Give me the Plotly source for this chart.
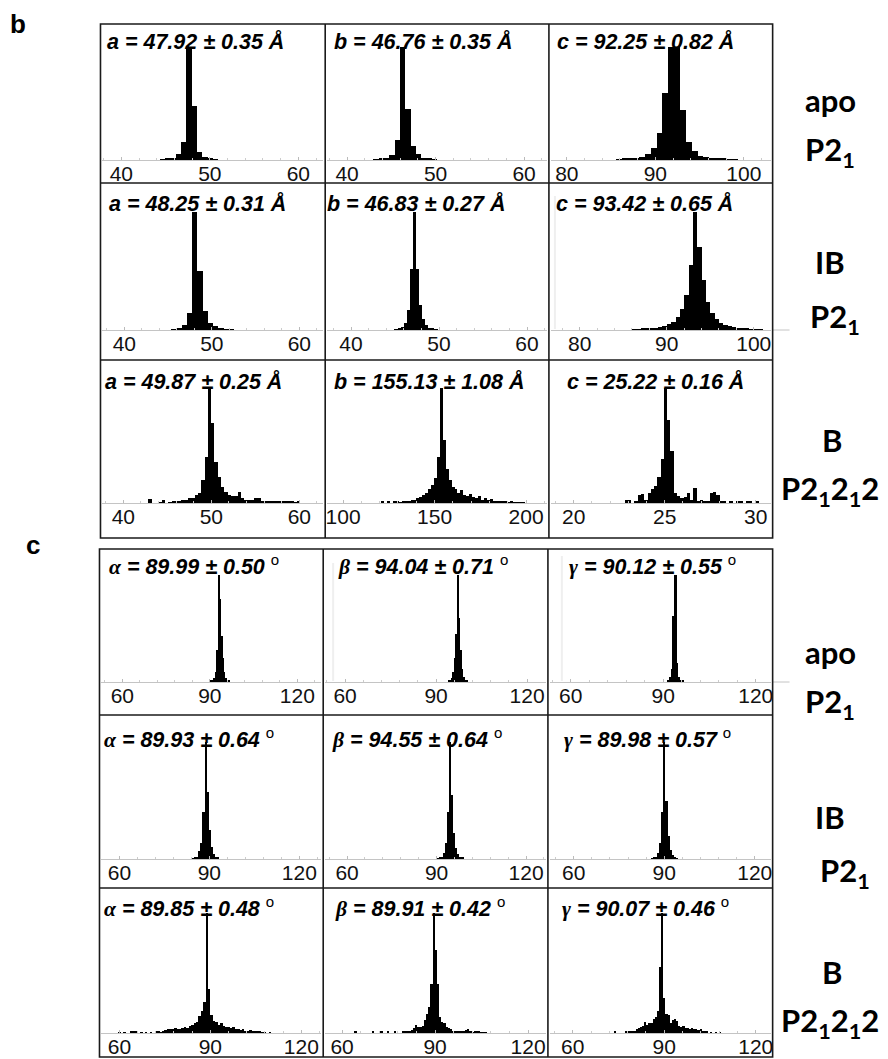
import plotly.graph_objects as go

# ---------------- data (relative frequency, peak = 100) ----------------
# panel b : unit-cell lengths (Å)
B_A_APO_EDGE, B_A_APO_BIN = 44.4, 0.6
B_A_APO = [0.5, 1, 2, 5, 16, 100, 48, 7, 3, 1, 0.5]

B_B_APO_EDGE, B_B_APO_BIN = 43.0, 0.6
B_B_APO = [0.5, 1, 2, 4, 18, 100, 45, 12, 5, 2, 1, 0.5]

B_C_APO_EDGE, B_C_APO_BIN = 85.52, 0.66
B_C_APO = [0.7, 1, 1.5, 2, 3, 5, 11, 24, 59, 100, 100, 44, 16, 8, 3.5, 2.5, 2, 1.5, 1, 0.7, 0.5]

B_A_IB_EDGE, B_A_IB_BIN = 45.4, 0.6
B_A_IB = [0.5, 1.5, 4, 14, 100, 50, 16, 6, 3, 1.5, 0.8, 0.4]

B_B_IB_EDGE, B_B_IB_BIN = 44.95, 0.35
B_B_IB = [0.5, 1, 2.5, 6, 17, 52, 100, 52, 21, 9, 4, 2, 1, 0.5]

B_C_IB_EDGE, B_C_IB_BIN = 86.0, 0.5
B_C_IB = [0.5, 0.7, 1, 1.2, 1.5, 2, 2.5, 3.5, 5, 7, 11, 18, 30, 55, 100,
          70, 42, 24, 14, 9, 6, 4, 3, 2.2, 1.6, 1.2, 0.9, 0.6, 0.4, 0.3]

B_A_B_EDGE, B_A_B_BIN = 42.9, 0.375
B_A_B = [3.5, 0, 0, 0.5, 2.3, 0, 0.5, 1.5, 1.5, 1.2, 2.5, 2.5, 4.5, 4.5, 7, 9, 20, 40,
         100, 70, 36, 23, 14, 10, 7, 6, 6, 10, 4, 3, 2.5, 3, 4.5, 4, 1.5, 1, 2, 1.5,
         1, 2, 1.5, 2, 1, 1, 0.5, 1]

B_B_B_EDGE, B_B_B_BIN = 121.0, 1.6
B_B_B = [1, 0, 1.5, 0, 1, 1.5, 0.5, 2, 1, 2, 2.5, 3, 4, 5, 7, 9, 12, 16, 22, 40,
         100, 55, 30, 20, 14, 12, 9, 11, 7, 6, 8, 5, 4, 6, 3, 4, 2.5, 3.5, 2, 2,
         1.5, 1, 1.5, 0.5, 1, 0.5, 0.5, 0.5, 0.3]

B_C_B_EDGE, B_C_B_BIN = 22.43, 0.18
B_C_B = [0, 0, 3, 3, 0, 2, 7, 8, 3, 9, 12, 15, 23, 38, 100, 72, 45, 9, 6, 4, 5, 9,
         3, 13, 2, 3, 1, 2, 9, 10, 7, 1, 1.5, 0, 1.5, 0, 1.5, 1, 0, 1.5, 1, 0, 1.5]

# panel c : unit-cell angles (°)
C_AL_APO_EDGE, C_AL_APO_BIN = 90.5, 0.5
C_AL_APO = [1, 2, 4, 9, 30, 100, 78, 43, 22, 9, 4, 2, 1]

C_BE_APO_EDGE, C_BE_APO_BIN = 94.0, 0.5
C_BE_APO = [1, 2, 4, 9, 22, 45, 100, 60, 30, 12, 5, 2, 1]

C_GA_APO_EDGE, C_GA_APO_BIN = 91.3, 0.6
C_GA_APO = [1, 5, 12, 62, 100, 18, 5, 2, 1]

C_AL_IB_EDGE, C_AL_IB_BIN = 84.35, 0.7
C_AL_IB = [0.5, 1, 2, 6.5, 14, 40, 100, 57, 25, 10, 4, 2, 1]

C_BE_IB_EDGE, C_BE_IB_BIN = 90.05, 0.7
C_BE_IB = [0.5, 1, 2, 5, 14, 40, 100, 55, 22, 9, 4, 2, 1]

C_GA_IB_EDGE, C_GA_IB_BIN = 85.45, 0.7
C_GA_IB = [0.5, 1, 2, 5, 14, 40, 100, 50, 20, 8, 3, 1.5, 0.5]

C_AL_B_EDGE, C_AL_B_BIN = 59.8, 0.8
C_AL_B = [0.5, 0, 0.5, 0, 0, 1.5, 1.5, 1, 0, 0.5, 0, 0.5, 0, 0.5, 0, 1.5, 1.5, 0.5,
          1, 2.5, 3.5, 3, 3.5, 4, 3, 3.5, 4, 5, 4.5, 6, 7, 8, 9, 14, 18, 26, 100, 37,
          15, 10, 9, 7, 8, 6, 5, 5, 4, 5, 3, 3, 2.5, 3, 2, 2, 2.5, 1.5, 1.5, 1, 1,
          0.5, 0.5, 0, 0.5]

C_BE_B_EDGE, C_BE_B_BIN = 63.35, 0.7
C_BE_B = [0, 1, 0, 0, 0, 0, 0, 0, 0, 1, 0, 0, 0, 1, 0, 0, 1, 0, 0, 1, 0, 0, 0, 1.5,
          1, 2, 2, 2.5, 4, 7, 5, 5, 6, 11, 16, 22, 41, 100, 69, 41, 13, 9, 8, 5, 4,
          3, 2, 2, 1.5, 2, 1, 1, 2.5, 3.5, 1, 0.5, 1.5, 1.5, 1, 0.5, 0.5, 0.5]

C_GA_B_EDGE, C_GA_B_BIN = 72.15, 0.7
C_GA_B = [0, 0, 1, 0, 0, 0, 0, 1, 2, 1.5, 2, 2, 3, 4, 5, 6, 9, 7, 8, 8, 12, 13, 18,
          55, 100, 29, 16, 15, 8, 11, 12, 10, 6, 5, 6, 4, 4, 3, 4, 3, 3, 2.5, 3, 2,
          2, 1, 0, 0.5, 0, 0.5, 0, 0.5]

TITLES_B = [
    ["a = 47.92 ± 0.35 Å", "b = 46.76 ± 0.35 Å", "c = 92.25 ± 0.82 Å"],
    ["a = 48.25 ± 0.31 Å", "b = 46.83 ± 0.27 Å", "c = 93.42 ± 0.65 Å"],
    ["a = 49.87 ± 0.25 Å", "b = 155.13 ± 1.08 Å", "c = 25.22 ± 0.16 Å"],
]
ANGLE_SYMBOLS = ["α", "β", "γ"]
ANGLE_VALUES = [
    ["89.99 ± 0.50", "94.04 ± 0.71", "90.12 ± 0.55"],
    ["89.93 ± 0.64", "94.55 ± 0.64", "89.98 ± 0.57"],
    ["89.85 ± 0.48", "89.91 ± 0.42", "90.07 ± 0.46"],
]
TICKS_LEN = [[40, 50, 60], [40, 50, 60], [80, 90, 100]]
TICKS_LEN_B = [[40, 50, 60], [100, 150, 200], [20, 25, 30]]
TICKS_ANG = [60, 90, 120]
ROW_STATES = ["apo", "IB", "B"]
ROW_GROUPS = ["P2<sub>1</sub>", "P2<sub>1</sub>", "P2<sub>1</sub>2<sub>1</sub>2"]

HISTS_B = [
    [(B_A_APO_EDGE, B_A_APO_BIN, B_A_APO), (B_B_APO_EDGE, B_B_APO_BIN, B_B_APO), (B_C_APO_EDGE, B_C_APO_BIN, B_C_APO)],
    [(B_A_IB_EDGE, B_A_IB_BIN, B_A_IB), (B_B_IB_EDGE, B_B_IB_BIN, B_B_IB), (B_C_IB_EDGE, B_C_IB_BIN, B_C_IB)],
    [(B_A_B_EDGE, B_A_B_BIN, B_A_B), (B_B_B_EDGE, B_B_B_BIN, B_B_B), (B_C_B_EDGE, B_C_B_BIN, B_C_B)],
]
HISTS_C = [
    [(C_AL_APO_EDGE, C_AL_APO_BIN, C_AL_APO), (C_BE_APO_EDGE, C_BE_APO_BIN, C_BE_APO), (C_GA_APO_EDGE, C_GA_APO_BIN, C_GA_APO)],
    [(C_AL_IB_EDGE, C_AL_IB_BIN, C_AL_IB), (C_BE_IB_EDGE, C_BE_IB_BIN, C_BE_IB), (C_GA_IB_EDGE, C_GA_IB_BIN, C_GA_IB)],
    [(C_AL_B_EDGE, C_AL_B_BIN, C_AL_B), (C_BE_B_EDGE, C_BE_B_BIN, C_BE_B), (C_GA_B_EDGE, C_GA_B_BIN, C_GA_B)],
]

# ---------------- layout geometry (window pixels) ----------------
OFF = 8                  # default page-body margin of the written html
W, H = 879, 1050         # figure size so that it fills the 888x1059 window

B_COLS = [(99, 325), (325, 550), (550, 775)]
B_ROWS = [(24, 183), (183, 360), (360, 538)]
B_BASE = [(160, 47), (330, 212), (503, 388)]
C_COLS = [(98, 323), (323, 549), (549, 775)]
C_ROWS = [(549, 715), (715, 888), (888, 1057)]
C_BASE = [(682, 575), (859, 742), (1033, 913)]

# tick calibration: (value_a, px_a, value_b, px_b)
B_CAL = [
    [(40, 120, 60, 298), (40, 347, 60, 525), (80, 568, 100, 746)],
    [(40, 123, 60, 299), (40, 351, 60, 528), (80, 581, 100, 756)],
    [(40, 122, 60, 299), (100, 343, 200, 527), (20, 575, 30, 758)],
]
C_CAL = [
    [(60, 121, 120, 297), (60, 345, 120, 528), (60, 572, 120, 758)],
    [(60, 118, 120, 299), (60, 347, 120, 527), (60, 575, 120, 757)],
    [(60, 118, 120, 301), (60, 342, 120, 529), (60, 574, 120, 758)],
]
B_TITLE_POS = [[(104, 41), (332, 41), (556, 41)],
               [(106, 203), (325, 203), (555, 203)],
               [(102, 381), (332, 381), (566, 381)]]
C_TITLE_POS = [[(106, 565), (336, 565), (568, 565)],
               [(101, 738), (330, 738), (563, 738)],
               [(101, 907), (333, 907), (561, 907)]]

# faint scanner artefacts of the original figure: (x0, y0, x1, y1)
FAINT_LINES = [(333, 563, 333, 681), (563, 556, 563, 681), (556, 196, 556, 329),
               (775, 682, 792, 682), (775, 330, 792, 330)]

FONT = "Liberation Sans, Arial, sans-serif"
SERIF = "Liberation Serif"
LABEL_FONT = "Lato, Open Sans, sans-serif"

fig = go.Figure()
layout = {}
annotations = []
shapes = []


def px(p):
    return (p - OFF) / W


def py(p):
    return 1 - (p - OFF) / H


def add_panel(hist, cols, base, cal, ticks, minor_dt, k):
    edge, binw, heights = hist
    centers = [edge + binw * (i + 0.5) for i in range(len(heights))]
    fig.add_trace(go.Bar(x=centers, y=heights, width=binw,
                         marker=dict(color="black", line=dict(width=0)),
                         xaxis=f"x{k}", yaxis=f"y{k}", showlegend=False,
                         hoverinfo="skip"))
    d0, d1 = cols[0] + 2, cols[1] - 2
    va, pa, vb, pb = cal
    s = (vb - va) / (pb - pa)
    r0 = va - (pa - d0) * s
    r1 = vb + (d1 - pb) * s
    sfx = "" if k == 1 else str(k)
    layout[f"xaxis{sfx}"] = dict(
        domain=[px(d0), px(d1)], range=[r0, r1], anchor=f"y{k}",
        tickvals=ticks, ticks="inside", ticklen=3, tickcolor="#bbbbbb",
        showline=True, linecolor="#c4c4c4", linewidth=1, showgrid=False,
        zeroline=False, fixedrange=True, ticklabelstandoff=-5,
        tickfont=dict(family=FONT, size=21, color="#111111"),
        minor=dict(ticks="inside", ticklen=2, tickcolor="#cccccc", dtick=minor_dt),
    )
    layout[f"yaxis{sfx}"] = dict(domain=[py(base[0]), py(base[1])], range=[0, 100],
                                 visible=False, anchor=f"x{k}", fixedrange=True)


k = 0
# panel b
for r in range(3):
    for c in range(3):
        k += 1
        ticks = TICKS_LEN_B[c] if r == 2 else TICKS_LEN[c]
        minor_dt = (ticks[1] - ticks[0]) / 5
        add_panel(HISTS_B[r][c], B_COLS[c], B_BASE[r], B_CAL[r][c], ticks, minor_dt, k)
        tx, ty = B_TITLE_POS[r][c]
        annotations.append(dict(x=px(tx), y=py(ty), xref="paper", yref="paper",
                                xanchor="left", yanchor="middle", showarrow=False,
                                text=f"<b><i>{TITLES_B[r][c]}</i></b>",
                                font=dict(family=FONT, size=21.5, color="black")))
# panel c
for r in range(3):
    for c in range(3):
        k += 1
        add_panel(HISTS_C[r][c], C_COLS[c], C_BASE[r], C_CAL[r][c], TICKS_ANG, 6, k)
        tx, ty = C_TITLE_POS[r][c]
        txt = (f"<span style='font-family:{SERIF}'><b><i>{ANGLE_SYMBOLS[c]}</i></b></span>"
               f"<b><i> = {ANGLE_VALUES[r][c]} </i></b><sup>o</sup>")
        annotations.append(dict(x=px(tx), y=py(ty), xref="paper", yref="paper",
                                xanchor="left", yanchor="middle", showarrow=False,
                                text=txt,
                                font=dict(family=FONT, size=21.5, color="black")))


def grid_lines(cols, rows):
    x0, x1 = cols[0][0], cols[-1][1]
    y0, y1 = rows[0][0], rows[-1][1]
    shapes.append(dict(type="rect", xref="paper", yref="paper",
                       x0=px(x0), x1=px(x1), y0=py(y0), y1=py(y1),
                       line=dict(color="#1a1a1a", width=1.6)))
    for cc in cols[1:]:
        shapes.append(dict(type="line", xref="paper", yref="paper",
                           x0=px(cc[0]), x1=px(cc[0]), y0=py(y0), y1=py(y1),
                           line=dict(color="#1a1a1a", width=1.6)))
    for rr in rows[1:]:
        shapes.append(dict(type="line", xref="paper", yref="paper",
                           x0=px(x0), x1=px(x1), y0=py(rr[0]), y1=py(rr[0]),
                           line=dict(color="#1a1a1a", width=1.6)))


for (fx0, fy0, fx1, fy1) in FAINT_LINES:
    vertical = fx0 == fx1
    shapes.append(dict(type="line", xref="paper", yref="paper", layer="below",
                       x0=px(fx0), x1=px(fx1), y0=py(fy0), y1=py(fy1),
                       line=dict(color="#efefef" if vertical else "#c4c4c4",
                                 width=2 if vertical else 1)))

grid_lines(B_COLS, B_ROWS)
grid_lines(C_COLS, C_ROWS)

# row labels
B_LABEL_POS = [((833, 100), (833, 152)), ((833, 262), (838, 318)), ((835, 440), (833, 490))]
C_LABEL_POS = [((833, 652), (833, 703)), ((833, 817), (848, 872)), ((835, 972), (833, 1022))]
for pos in (B_LABEL_POS, C_LABEL_POS):
    for r in range(3):
        (sx, sy), (gx, gy) = pos[r]
        annotations.append(dict(x=px(sx), y=py(sy), xref="paper", yref="paper",
                                xanchor="center", yanchor="middle", showarrow=False,
                                text=f"<b>{ROW_STATES[r]}</b>",
                                font=dict(family=LABEL_FONT, size=31, color="black")))
        annotations.append(dict(x=px(gx), y=py(gy), xref="paper", yref="paper",
                                xanchor="center", yanchor="middle", showarrow=False,
                                text=f"<b>{ROW_GROUPS[r]}</b>",
                                font=dict(family=LABEL_FONT, size=31, color="black")))

# panel letters
for letter, (lx, ly) in (("b", (16, 24)), ("c", (31, 545))):
    annotations.append(dict(x=px(lx), y=py(ly), xref="paper", yref="paper",
                            xanchor="center", yanchor="middle", showarrow=False,
                            text=f"<b>{letter}</b>",
                            font=dict(family=FONT, size=26, color="black")))

fig.update_layout(
    width=W, height=H, margin=dict(l=0, r=0, t=0, b=0),
    paper_bgcolor="white", plot_bgcolor="white", bargap=0,
    annotations=annotations, shapes=shapes, **layout,
)
fig.write_html("out.html")
